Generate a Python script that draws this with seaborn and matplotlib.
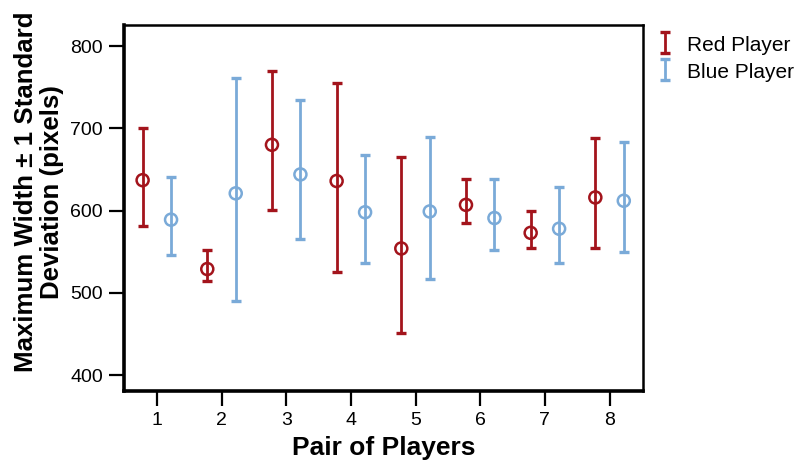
import numpy as np
import pandas as pd
import matplotlib
matplotlib.use("Agg")
import matplotlib.pyplot as plt
import seaborn as sns

# values (mean, lower and upper end of the +-1 SD bar)
pairs = [1, 2, 3, 4, 5, 6, 7, 8]
red_mean = [637, 529, 680, 636, 554, 607, 573, 616]
red_low = [581, 515, 601, 525, 451, 585, 554, 554]
red_high = [701, 552, 770, 755, 665, 638, 600, 688]
blue_mean = [589, 621, 644, 598, 599, 591, 578, 612]
blue_low = [546, 490, 565, 536, 517, 552, 536, 550]
blue_high = [641, 761, 735, 668, 690, 639, 629, 683]

red_col = "#a3141c"
blue_col = "#7aaad8"
offset = 0.22

sns.set_style("ticks")
plt.rcParams['font.family'] = ['Liberation Sans', 'DejaVu Sans']
plt.rcParams['text.color'] = 'black'
plt.rcParams['axes.labelcolor'] = 'black'
plt.rcParams['xtick.color'] = 'black'
plt.rcParams['ytick.color'] = 'black'

df = pd.DataFrame({
    "pair": np.r_[np.array(pairs) - offset, np.array(pairs) + offset],
    "mean": red_mean + blue_mean,
    "low": red_low + blue_low,
    "high": red_high + blue_high,
    "player": ["Red Player"] * 8 + ["Blue Player"] * 8,
})

fig = plt.figure(figsize=(7.99, 4.63), dpi=100)
ax = fig.add_axes([0.155, 0.155, 0.65, 0.791])

for name, col in [("Red Player", red_col), ("Blue Player", blue_col)]:
    d = df[df.player == name]
    yerr = [d["mean"] - d["low"], d["high"] - d["mean"]]
    ax.errorbar(d["pair"], d["mean"], yerr=yerr, fmt="none", ecolor=col,
                elinewidth=2, capsize=3.5, capthick=2.4, label=name)

sns.scatterplot(data=df, x="pair", y="mean", hue="player",
                palette={"Red Player": red_col, "Blue Player": blue_col},
                marker="o", s=75, linewidth=1.8,
                legend=False, ax=ax, zorder=3)
# hollow circles with coloured edges, bar visible through them
pts = ax.collections[-1]
pts.set_edgecolors([red_col] * 8 + [blue_col] * 8)
pts.set_facecolors("none")

ax.set_xlim(0.49, 8.52)
ax.set_ylim(380.5, 825.6)
ax.set_xticks(pairs)
ax.set_yticks([400, 500, 600, 700, 800])
ax.tick_params(axis="both", length=11, width=1.6, labelsize=14, pad=4)
ax.set_xlabel("Pair of Players", fontsize=19, fontweight="bold", labelpad=5)
ax.set_ylabel("Maximum Width ± 1 Standard\nDeviation (pixels)", fontsize=18.6,
              fontweight="bold", linespacing=1.12)
ax.yaxis.set_label_coords(-0.115, 0.545)

for s in ["left", "bottom"]:
    ax.spines[s].set_linewidth(2.6)
for s in ["top", "right"]:
    ax.spines[s].set_linewidth(1.8)
for s in ax.spines.values():
    s.set_color("black")

handles, labels = ax.get_legend_handles_labels()
fig.legend(handles, labels, loc="upper left", bbox_to_anchor=(0.803, 0.96),
           frameon=False, fontsize=15, handlelength=0.8, handleheight=1.3,
           handletextpad=0.7, labelspacing=0.2, borderpad=0.2)

fig.savefig("out.png", dpi=100)
